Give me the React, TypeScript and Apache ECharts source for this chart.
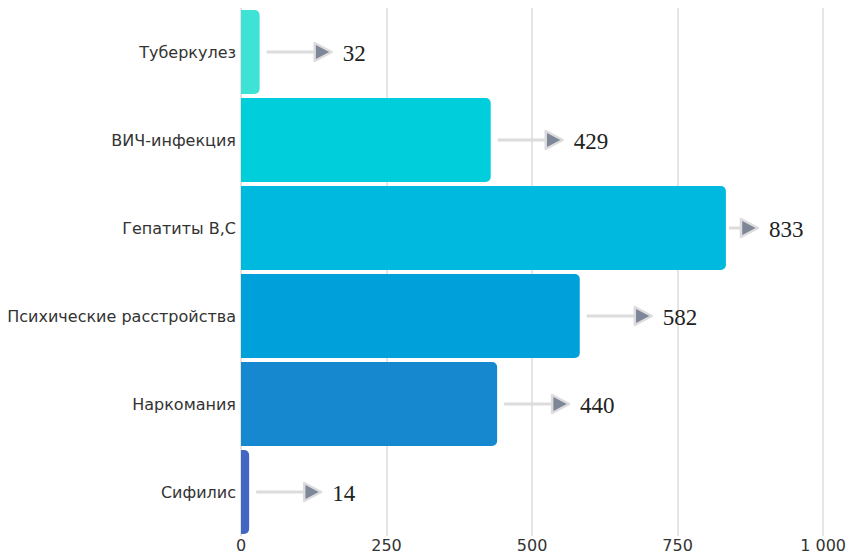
import React, { useEffect, useRef } from "react";
import * as echarts from "echarts";

const categories = ["Туберкулез", "ВИЧ-инфекция", "Гепатиты В,С", "Психические расстройства", "Наркомания", "Сифилис"];
const values = [32, 429, 833, 582, 440, 14];
const barColors = ["#3ee3d6", "#00cedb", "#00b9de", "#00a0db", "#1588d0", "#4267c2"];
const xTicks = [0, 250, 500, 750, 1000];

export default function App() {
  const ref = useRef<HTMLDivElement>(null);
  useEffect(() => {
    const chart = echarts.init(ref.current!, undefined, { renderer: "svg" });
    chart.setOption({
      animation: false,
      grid: { left: 241, right: 22, top: 8, bottom: 13, containLabel: false },
      xAxis: {
        type: "value",
        min: xTicks[0],
        max: xTicks[xTicks.length - 1],
        interval: 250,
        axisLine: { show: false },
        axisTick: { show: false },
        splitLine: { show: true, lineStyle: { color: "#dddddd", width: 1.5 } },
        axisLabel: {
          margin: 1,
          color: "#333",
          fontSize: 16,
          fontFamily: "DejaVu Sans, sans-serif",
          formatter: (v: number) => String(v).replace(/\B(?=(\d{3})+(?!\d))/g, " "),
        },
      },
      yAxis: {
        type: "category",
        data: categories,
        inverse: true,
        axisLine: { show: true, lineStyle: { color: "#e4e4e4", width: 1 } },
        axisTick: { show: false },
        axisLabel: {
          margin: 5,
          color: "#333",
          fontSize: 16,
          fontFamily: "DejaVu Sans, sans-serif",
        },
      },
      series: [
        {
          type: "bar",
          barCategoryGap: "4.5%",
          data: values.map((v, i) => ({
            value: v,
            itemStyle: { color: barColors[i], borderRadius: [0, 5, 5, 0] },
          })),
        },
        {
          type: "custom",
          data: values.map((v, i) => [v, i]),
          z: 5,
          renderItem: (params: any, api: any) => {
            const v = api.value(0);
            const idx = api.value(1);
            const p = api.coord([v, idx]);
            const maxTri = 741;
            const triLeft = Math.min(p[0] + 55, maxTri);
            const lineStart = Math.min(p[0] + 7, triLeft - 12);
            const y = p[1];
            return {
              type: "group",
              children: [
                {
                  type: "line",
                  shape: { x1: lineStart, y1: y, x2: triLeft, y2: y },
                  style: { stroke: "#dcdcdc", lineWidth: 3 },
                },
                {
                  type: "polygon",
                  shape: { points: [[triLeft, y - 9], [triLeft + 17, y], [triLeft, y + 9]] },
                  style: { fill: "#7d8798", stroke: "#dcdcdc", lineWidth: 2.5, lineJoin: "round" },
                },
                {
                  type: "text",
                  x: triLeft + 28,
                  y: y + 1,
                  style: {
                    text: String(v),
                    fill: "#222",
                    font: "23px 'Liberation Serif', 'Times New Roman', serif",
                    verticalAlign: "middle",
                    align: "left",
                  },
                },
              ],
            };
          },
        },
      ],
    });
    return () => chart.dispose();
  }, []);
  return <div ref={ref} style={{ width: 849, height: 553, position: "absolute", left: 0, top: 0 }} />;
}
